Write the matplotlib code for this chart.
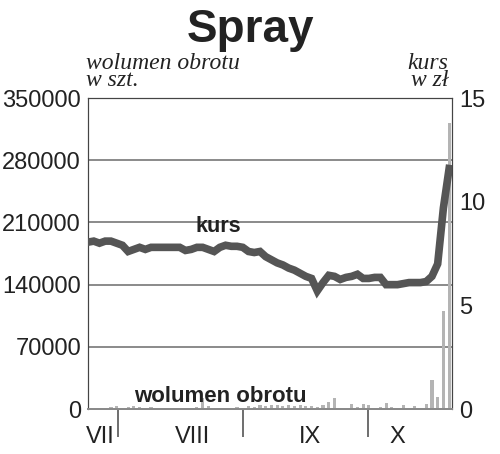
import numpy as np
import matplotlib.pyplot as plt

# dane (sesje od konca lipca do konca pazdziernika)
kurs = [8.05, 8.1, 8.0, 8.1, 8.1, 8.0, 7.9, 7.6, 7.7, 7.8,
        7.7, 7.8, 7.8, 7.8, 7.8, 7.8, 7.8, 7.65, 7.7, 7.8,
        7.8, 7.7, 7.6, 7.8, 7.9, 7.85, 7.85, 7.8, 7.6, 7.55,
        7.6, 7.35, 7.2, 7.05, 6.95, 6.8, 6.7, 6.55, 6.4, 6.3,
        5.7, 6.1, 6.45, 6.4, 6.25, 6.35, 6.4, 6.5, 6.3, 6.3,
        6.35, 6.35, 6.0, 6.0, 6.0, 6.05, 6.1, 6.1, 6.1, 6.15,
        6.4, 7.0, 9.7, 11.6]
wolumen = [1000, 500, 1500, 1000, 2500, 3000, 1500, 2000, 3500, 2000,
           1500, 2000, 1000, 1500, 1000, 1500, 1000, 1500, 1000, 2000,
           13000, 3000, 1500, 1000, 1500, 1000, 2000, 1500, 3000, 2000,
           4500, 3000, 5000, 4500, 3500, 4500, 3500, 4000, 3000, 3500,
           2500, 4000, 7500, 12500, 1500, 1000, 5500, 2000, 5500, 4000,
           1000, 2000, 7000, 2000, 1500, 4000, 1000, 3500, 1000, 5500,
           32600, 13500, 110000, 322000]
miesiace = ['VII', 'VIII', 'IX', 'X']
granice = [5.2, 27.0, 48.9]
srodki = [2.1, 18.3, 38.7, 53.9]

plt.rcParams['font.family'] = ['Liberation Sans', 'DejaVu Sans']

x = np.arange(len(kurs))

fig = plt.figure(figsize=(5, 4.54), dpi=100)
ax = fig.add_axes([0.176, 0.099, 0.728, 0.685])
ax2 = ax.twinx()

ax.bar(x, wolumen, width=0.55, color='#b4b4b4', zorder=2)
ax.set_ylim(0, 350000)
ax.set_xlim(0, 63.5)
ax.set_yticks(range(0, 350001, 70000))
ax.yaxis.grid(True, color='#8a8a8a', linewidth=1.4, zorder=0)
ax.set_axisbelow(True)
ax.tick_params(axis='y', length=0, labelsize=17, pad=5, labelcolor='#222222')

ax.set_xticks(granice)
ax.set_xticklabels([])
ax.tick_params(axis='x', which='major', length=20, width=1.2, color='#555555', direction='out')
ax.set_xticks(srodki, minor=True)
ax.set_xticklabels(miesiace, minor=True)
ax.tick_params(axis='x', which='minor', length=0, labelsize=17, pad=12, labelcolor='#222222')

ax2.plot(x, kurs, color='#555555', linewidth=5.5, solid_joinstyle='miter', zorder=5)
ax2.set_ylim(0, 15)
ax2.set_yticks([0, 5, 10, 15])
ax2.tick_params(axis='y', length=0, labelsize=17, pad=5, labelcolor='#222222')

for a in (ax, ax2):
    a.spines['left'].set_color('#444444')
    a.spines['right'].set_color('#444444')
    a.spines['top'].set_color('#444444')
    a.spines['bottom'].set_color('#8a8a8a')
    a.spines['bottom'].set_linewidth(1.4)

fig.text(0.5, 0.935, 'Spray', ha='center', va='center', fontsize=33, fontweight='bold', color='#222222')
fig.text(0.172, 0.80, 'wolumen obrotu\nw szt.', ha='left', va='bottom', fontsize=17,
         style='italic', family='Liberation Serif', linespacing=0.75, color='#222222')
fig.text(0.897, 0.80, 'kurs\nw zł', ha='right', va='bottom', fontsize=17,
         style='italic', family='Liberation Serif', linespacing=0.75, color='#222222')
ax2.text(22.7, 8.8, 'kurs', ha='center', va='center', fontsize=15.5, fontweight='bold', color='#222222')
ax.text(23.0, 0.04, 'wolumen obrotu', transform=ax.get_xaxis_transform(), ha='center',
        va='center', fontsize=16, fontweight='bold', color='#222222', zorder=6)

fig.savefig('out.png', dpi=100)
